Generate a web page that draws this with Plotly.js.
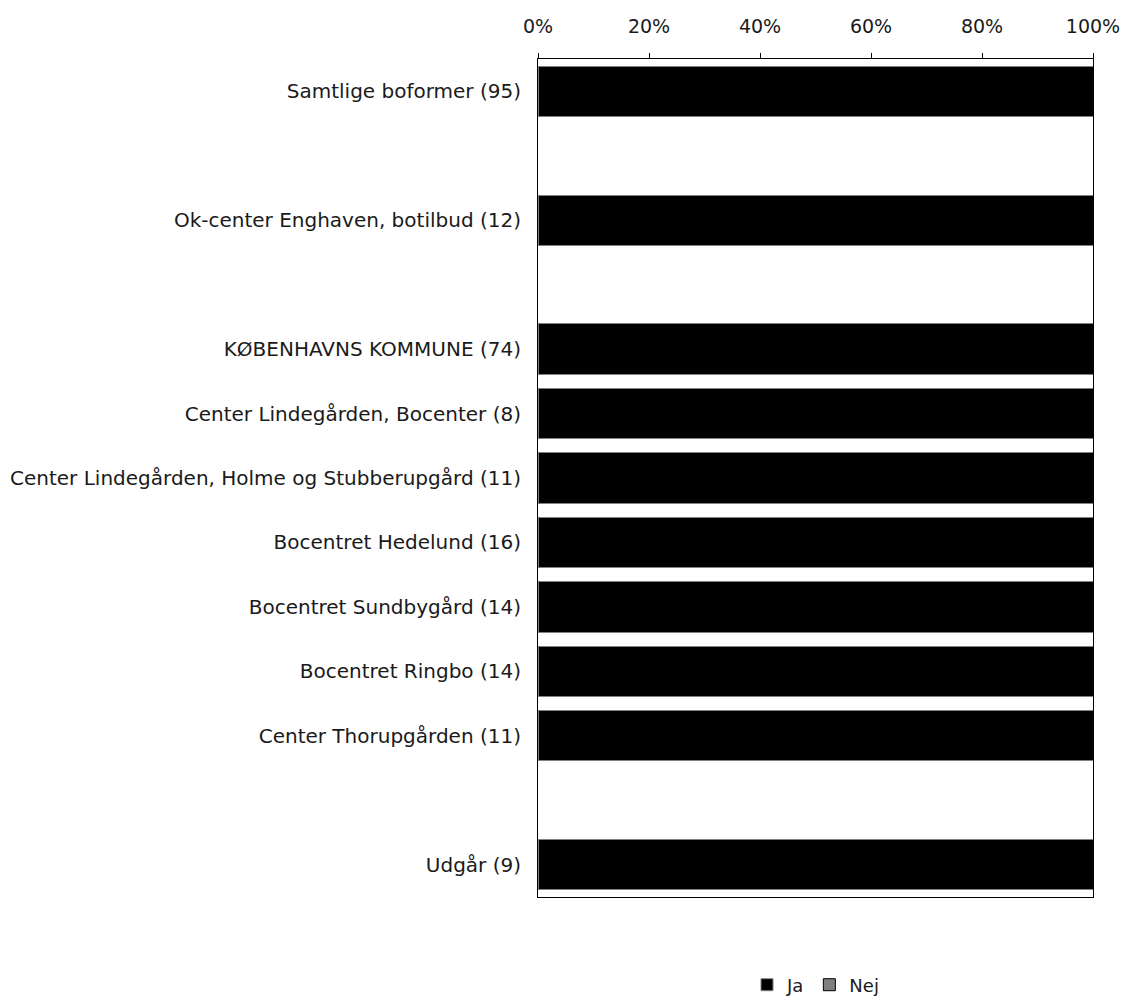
<!DOCTYPE html>
<html>
<head>
<meta charset="utf-8">
<script src="https://cdn.plot.ly/plotly-3.0.1.min.js"></script>
<style>html,body{margin:0;padding:0;background:#fff;}#chart{width:1124px;height:999px;}</style>
</head>
<body>
<div id="chart"></div>
<script>
// Category slots (blank entries are empty spacer rows)
const categories = [
  "Samtlige boformer (95)",
  " ",
  "Ok-center Enghaven, botilbud (12)",
  "  ",
  "KØBENHAVNS KOMMUNE (74)",
  "Center Lindegården, Bocenter (8)",
  "Center Lindegården, Holme og Stubberupgård (11)",
  "Bocentret Hedelund (16)",
  "Bocentret Sundbygård (14)",
  "Bocentret Ringbo (14)",
  "Center Thorupgården (11)",
  "   ",
  "Udgår (9)"
];
const barCategories = [
  "Samtlige boformer (95)",
  "Ok-center Enghaven, botilbud (12)",
  "KØBENHAVNS KOMMUNE (74)",
  "Center Lindegården, Bocenter (8)",
  "Center Lindegården, Holme og Stubberupgård (11)",
  "Bocentret Hedelund (16)",
  "Bocentret Sundbygård (14)",
  "Bocentret Ringbo (14)",
  "Center Thorupgården (11)",
  "Udgår (9)"
];
const jaValues  = [100, 100, 100, 100, 100, 100, 100, 100, 100, 100];
const nejValues = [0, 0, 0, 0, 0, 0, 0, 0, 0, 0];
const tickValues = [0, 20, 40, 60, 80, 100];
const tickLabels = ["0%", "20%", "40%", "60%", "80%", "100%"];

const FONT = "'DejaVu Sans', sans-serif";

const traces = [
  {
    type: "bar", orientation: "h", name: "Ja",
    y: barCategories, x: jaValues,
    marker: {color: "#000000", line: {color: "#808080", width: 1}},
    hoverinfo: "x+y"
  },
  {
    type: "bar", orientation: "h", name: "Nej",
    y: barCategories, x: nejValues,
    marker: {color: "#808080", line: {color: "#000000", width: 1}},
    hoverinfo: "x+y"
  }
];

const layout = {
  width: 1124, height: 999,
  paper_bgcolor: "#ffffff", plot_bgcolor: "#ffffff",
  font: {family: FONT, size: 18, color: "#1a1a1a"},
  margin: {l: 538, r: 31, t: 59, b: 102, pad: 0},
  barmode: "stack",
  bargap: 0.22,
  showlegend: true,
  legend: {
    orientation: "h", x: 0.5, xanchor: "center",
    yref: "container", y: 0.014, yanchor: "middle",
    font: {family: FONT, size: 18, color: "#1a1a1a"},
    itemwidth: 30, traceorder: "normal"
  },
  xaxis: {
    side: "top", range: [0, 100], tickvals: tickValues, ticktext: tickLabels,
    showgrid: false, zeroline: false, showline: true, linecolor: "#000000", linewidth: 1,
    mirror: true, ticks: "outside", ticklen: 5, tickcolor: "#000000",
    ticklabelstandoff: 12,
    tickfont: {family: FONT, size: 19, color: "#1a1a1a"}
  },
  yaxis: {
    type: "category", categoryorder: "array", categoryarray: categories,
    autorange: "reversed", showgrid: false, zeroline: false,
    showline: true, linecolor: "#000000", linewidth: 1, mirror: true,
    ticks: "", ticklabelstandoff: 12,
    tickfont: {family: FONT, size: 20, color: "#1a1a1a"}
  }
};

Plotly.newPlot("chart", traces, layout, {displayModeBar: false, staticPlot: true});
</script>
</body>
</html>
